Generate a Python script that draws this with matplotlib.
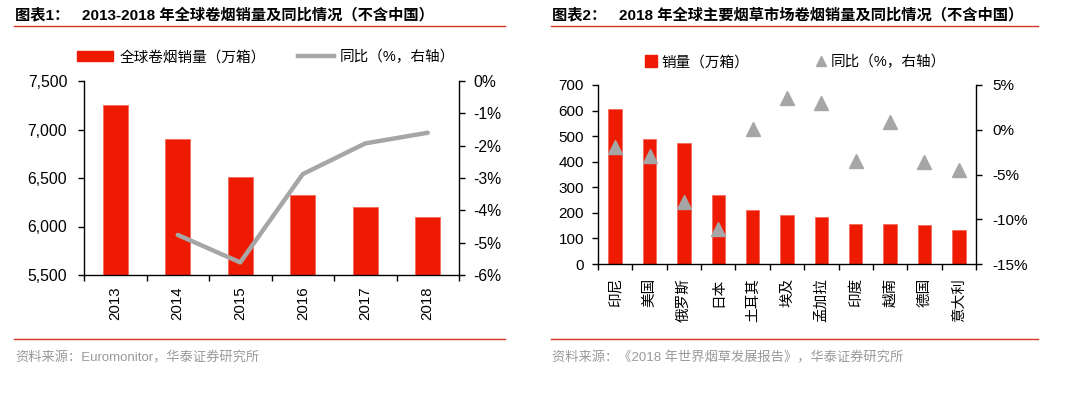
import numpy as np
import matplotlib
matplotlib.use("Agg")
from matplotlib import pyplot as plt
from matplotlib.lines import Line2D
from matplotlib.patches import Patch
from matplotlib.ticker import FuncFormatter

plt.rcParams['font.family'] = ['Liberation Sans', 'Noto Sans CJK SC', 'DejaVu Sans']

## chart 1 data
years = ['2013', '2014', '2015', '2016', '2017', '2018']
sales = [7250, 6900, 6510, 6320, 6200, 6100]
yoy = [np.nan, -4.76, -5.61, -2.88, -1.93, -1.60]

## chart 2 data
markets = ['印尼', '美国', '俄罗斯', '日本', '土耳其', '埃及', '孟加拉', '印度', '越南', '德国', '意大利']
mkt_sales = [605, 490, 475, 270, 212, 193, 183, 156, 155, 151, 133]
mkt_yoy = [-1.95, -2.95, -8.1, -11.1, 0.1, 3.55, 3.0, -3.5, 0.85, -3.65, -4.45]

RED = '#EF1A02'
GRAY = '#A6A6A6'
LINE_RED = '#D9361F'
W, H = 1088, 399

fig = plt.figure(figsize=(W / 100, H / 100), dpi=100)


def fx(px):
	return px / W


def fy(py):
	return 1 - py / H


def style_axes(ax, ax2):
	for a in (ax, ax2):
		a.spines['top'].set_visible(False)
		for s in a.spines.values():
			s.set_linewidth(1.0)
	ax.spines['right'].set_visible(False)
	ax2.spines['left'].set_visible(False)
	ax2.spines['bottom'].set_visible(False)


def frame(x0, x1, title, source):
	fig.text(fx(x0 + 1), fy(15), title, fontsize=11, fontweight='bold', va='center', ha='left')
	fig.add_artist(Line2D([fx(x0), fx(x1)], [fy(26), fy(26)], color=LINE_RED, lw=1.0))
	fig.add_artist(Line2D([fx(x0), fx(x1)], [fy(339), fy(339)], color=LINE_RED, lw=1.0))
	fig.text(fx(x0 + 1), fy(358), source, fontsize=9.5, color='#999999', va='center', ha='left')


#
# chart 1
#
ax1 = fig.add_axes([fx(84), fy(275), fx(459 - 84), (275 - 81) / H])
ax1b = ax1.twinx()
style_axes(ax1, ax1b)
x = np.arange(len(years))
ax1.bar(x, sales, width=0.4, color=RED, edgecolor='#F46A5A', linewidth=0.6, zorder=2)
ax1b.plot(x, yoy, color=GRAY, lw=3.2, solid_capstyle='round', zorder=3)
ax1.set_xlim(-0.5, len(years) - 0.5)
ax1.set_ylim(5500, 7500)
ax1.set_yticks([5500, 6000, 6500, 7000, 7500])
ax1.yaxis.set_major_formatter(FuncFormatter(lambda v, p: f"{int(v):,}"))
ax1b.set_ylim(-6, 0)
ax1b.set_yticks(range(-6, 1))
ax1b.yaxis.set_major_formatter(FuncFormatter(lambda v, p: f"{int(v)}%"))
ax1.set_xticks(np.arange(len(years) + 1) - 0.5)
ax1.set_xticklabels([])
ax1.set_xticks(x, minor=True)
ax1.set_xticklabels(years, minor=True, rotation=90, fontsize=10.8)
ax1.tick_params(axis='x', which='major', direction='out', length=4, width=1)
ax1.tick_params(axis='x', which='minor', length=0, pad=8)
ax1.tick_params(axis='y', direction='out', length=4, width=1, labelsize=11.3, pad=8)
ax1b.tick_params(axis='y', direction='out', length=4, width=1, labelsize=11.3, pad=6)
ax1b.set_zorder(ax1.get_zorder() + 1)

h1 = [Patch(facecolor=RED, edgecolor=RED), Line2D([], [], color=GRAY, lw=3.2)]
ax1.legend(h1, ['全球卷烟销量（万箱）', '同比（%，右轴）'], loc='center',
	bbox_to_anchor=(fx(266), fy(57)), bbox_transform=fig.transFigure, ncol=2,
	frameon=False, fontsize=10.5, handlelength=2.5, handleheight=0.6,
	handletextpad=0.4, columnspacing=2.2)

frame(14, 505, '图表1：   2013-2018 年全球卷烟销量及同比情况（不含中国）',
	'资料来源：Euromonitor，华泰证券研究所')

#
# chart 2
#
ax2 = fig.add_axes([fx(598), fy(264), fx(976 - 598), (264 - 85) / H])
ax2b = ax2.twinx()
style_axes(ax2, ax2b)
x2 = np.arange(len(markets))
ax2.bar(x2, mkt_sales, width=0.39, color=RED, edgecolor='#F46A5A', linewidth=0.6, zorder=2)
ax2b.plot(x2, mkt_yoy, linestyle='none', marker='^', ms=10, color=GRAY, zorder=3)
ax2.set_xlim(-0.5, len(markets) - 0.5)
ax2.set_ylim(0, 700)
ax2.set_yticks(range(0, 701, 100))
ax2b.set_ylim(-15, 5)
ax2b.set_yticks([-15, -10, -5, 0, 5])
ax2b.yaxis.set_major_formatter(FuncFormatter(lambda v, p: f"{int(v)}%"))
ax2.set_xticks(np.arange(len(markets) + 1) - 0.5)
ax2.set_xticklabels([])
ax2.set_xticks(x2, minor=True)
ax2.set_xticklabels(markets, minor=True, rotation=90, fontsize=10.5)
ax2.tick_params(axis='x', which='major', direction='out', length=4, width=1)
ax2.tick_params(axis='x', which='minor', length=0, pad=10)
ax2.tick_params(axis='y', direction='out', length=4, width=1, labelsize=11, pad=6)
ax2b.tick_params(axis='y', direction='out', length=4, width=1, labelsize=11, pad=8)
ax2b.set_zorder(ax2.get_zorder() + 1)

h2 = [Line2D([], [], linestyle='none', marker='s', ms=8, color=RED),
	Line2D([], [], linestyle='none', marker='^', ms=7, color=GRAY)]
ax2.legend(h2, ['销量（万箱）', '同比（%，右轴）'], loc='center',
	bbox_to_anchor=(fx(796), fy(62)), bbox_transform=fig.transFigure, ncol=2,
	frameon=False, fontsize=10.5, handlelength=0.8, handletextpad=0.3,
	columnspacing=4.5)

frame(551, 1038, '图表2：   2018 年全球主要烟草市场卷烟销量及同比情况（不含中国）',
	'资料来源：《2018 年世界烟草发展报告》，华泰证券研究所')

fig.savefig("out.png", dpi=100)
